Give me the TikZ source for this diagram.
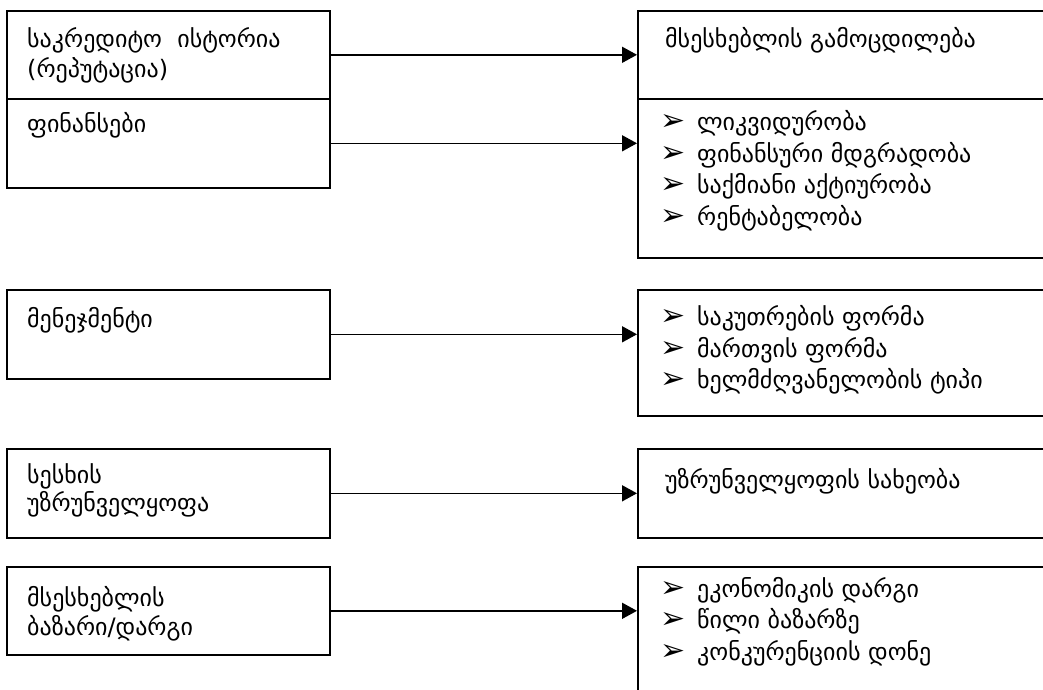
\documentclass[tikz,border=0pt]{standalone}
\usepackage{fontspec}
\newfontfamily\geo{DejaVu Sans}
\usetikzlibrary{arrows.meta}
\tikzset{
  box/.style={draw, line width=1.6pt, rectangle, anchor=north west, inner sep=0pt},
  txt/.style={anchor=base west, inner sep=0pt, font=\geo\fontsize{24}{28}\selectfont},
  bul/.style={anchor=base west, inner sep=0pt, font=\geo\fontsize{30}{32}\selectfont},
  arr/.style={line width=1.6pt, -{Triangle[length=15pt, width=16pt]}},
}
\begin{document}
\begin{tikzpicture}[x=1pt,y=-1pt]
\clip (0,0) rectangle (1043,689);
\fill[white] (0,0) rectangle (1043,689);
% left boxes
\node[box, minimum width=323pt, minimum height=88pt] (L1) at (6,10) {};
\node[box, minimum width=323pt, minimum height=89pt] (L2) at (6,98) {};
\node[box, minimum width=323pt, minimum height=89pt] (L3) at (6,289) {};
\node[box, minimum width=323pt, minimum height=89pt] (L4) at (6,448) {};
\node[box, minimum width=323pt, minimum height=88pt] (L5) at (6,566) {};
% right boxes
\node[box, minimum width=430pt, minimum height=88pt] (R1) at (637,10) {};
\node[box, minimum width=430pt, minimum height=159pt] (R2) at (637,98) {};
\node[box, minimum width=430pt, minimum height=126pt] (R3) at (637,289) {};
\node[box, minimum width=430pt, minimum height=89pt] (R4) at (637,448) {};
\node[box, minimum width=430pt, minimum height=150pt] (R5) at (637,566) {};
% arrows
\draw[arr] (L1.east) -- (L1.east -| R1.west);
\draw[arr] (L2.east) -- (L2.east -| R2.west);
\draw[arr] (L3.east) -- (L3.east -| R3.west);
\draw[arr] (L4.east) -- (L4.east -| R4.west);
\draw[arr] (L5.east) -- (L5.east -| R5.west);
% left texts
\node[txt] (l1a) at (27,47) {საკრედიტო \ ისტორია};
\node[txt] (l1b) at (27,77) {(რეპუტაცია)};
\node[txt] (l2a) at (27,132) {ფინანსები};
\node[txt] (l3a) at (27,327) {მენეჯმენტი};
\node[txt] (l4a) at (27,483) {სესხის};
\node[txt] (l4b) at (27,511) {უზრუნველყოფა};
\node[txt] (l5a) at (27,606) {მსესხებლის};
\node[txt] (l5b) at (27,635) {ბაზარი/დარგი};
% right texts
\node[txt] (r1a) at (665,47) {მსესხებლის გამოცდილება};
\node[bul] (b2a) at (660,130) {➢};
\node[txt] (r2a) at (697,130) {ლიკვიდურობა};
\node[bul] (b2b) at (660,162) {➢};
\node[txt] (r2b) at (697,162) {ფინანსური მდგრადობა};
\node[bul] (b2c) at (660,193) {➢};
\node[txt] (r2c) at (697,193) {საქმიანი აქტიურობა};
\node[bul] (b2d) at (660,225) {➢};
\node[txt] (r2d) at (697,225) {რენტაბელობა};
\node[bul] (b3a) at (660,325) {➢};
\node[txt] (r3a) at (697,325) {საკუთრების ფორმა};
\node[bul] (b3b) at (660,357) {➢};
\node[txt] (r3b) at (697,357) {მართვის ფორმა};
\node[bul] (b3c) at (660,388) {➢};
\node[txt] (r3c) at (697,388) {ხელმძღვანელობის ტიპი};
\node[txt] (r4a) at (665,488) {უზრუნველყოფის სახეობა};
\node[bul] (b5a) at (660,597) {➢};
\node[txt] (r5a) at (697,597) {ეკონომიკის დარგი};
\node[bul] (b5b) at (660,628) {➢};
\node[txt] (r5b) at (697,628) {წილი ბაზარზე};
\node[bul] (b5c) at (660,660) {➢};
\node[txt] (r5c) at (697,660) {კონკურენციის დონე};
\end{tikzpicture}
\end{document}
